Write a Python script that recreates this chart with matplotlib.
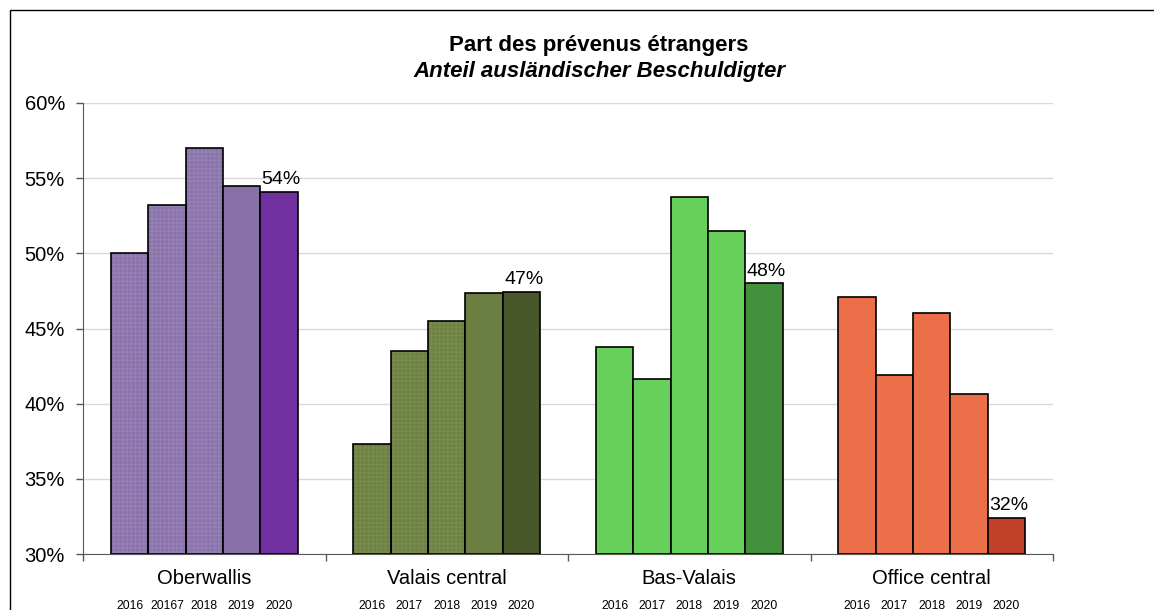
import matplotlib.pyplot as plt
import numpy as np
from matplotlib.patches import Rectangle
from matplotlib.transforms import blended_transform_factory

plt.rcParams['font.family'] = ['Liberation Sans', 'DejaVu Sans']

regions = ['Oberwallis', 'Valais central', 'Bas-Valais', 'Office central']
years = [['2016', '20167', '2018', '2019', '2020'],
         ['2016', '2017', '2018', '2019', '2020'],
         ['2016', '2017', '2018', '2019', '2020'],
         ['2016', '2017', '2018', '2019', '2020']]

oberwallis = [50.0, 53.2, 57.0, 54.5, 54.1]
valais_central = [37.3, 43.5, 45.5, 47.35, 47.45]
bas_valais = [43.8, 41.65, 53.75, 51.5, 48.0]
office_central = [47.1, 41.9, 46.05, 40.65, 32.4]
values = [oberwallis, valais_central, bas_valais, office_central]

# light tone for 2016-2019 (hatched except 2019 in Oberwallis), dark tone for 2020
colors = [['#8a70ac', '#8a70ac', '#8a70ac', '#8870a8', '#7030a0'],
          ['#6b7f42', '#6b7f42', '#6b7f42', '#6b7f42', '#48582a'],
          ['#66d05a', '#66d05a', '#66d05a', '#66d05a', '#43913c'],
          ['#eb704a', '#eb704a', '#eb704a', '#eb704a', '#c0402a']]
hatched = [[True, True, True, False, False],
           [True, True, True, False, False],
           [False] * 5,
           [False] * 5]

fig = plt.figure(figsize=(11.54, 6.10), dpi=100)
ax = fig.add_axes([83 / 1154, 1 - 554 / 610, 970 / 1154, 451 / 610])

w = 1 / 6.5
centers = []
labels = []
for i, vals in enumerate(values):
    for j, v in enumerate(vals):
        x = i + (j - 2) * w
        centers.append(x)
        labels.append(years[i][j])
        c = colors[i][j]
        if hatched[i][j]:
            ax.bar(x, v - 30, bottom=30, width=w, color=c, edgecolor='#9580b2' if i == 0 else '#778b4c',
                   hatch='++++', linewidth=0, zorder=2)
            ax.bar(x, v - 30, bottom=30, width=w, fill=False, edgecolor='black', linewidth=1.2, zorder=3)
        else:
            ax.bar(x, v - 30, bottom=30, width=w, color=c, edgecolor='black', linewidth=1.2, zorder=3)
    # value label on the 2020 bar
    ax.text(i + 2 * w + 0.01, vals[-1] + 0.25, f'{vals[-1]:.0f}%', ha='center', va='bottom', fontsize=14)

ax.set_ylim(30, 60)
ax.set_xlim(-0.5, 3.5)
ax.set_yticks(np.arange(30, 61, 5))
ax.set_yticklabels([f'{t}%' for t in range(30, 61, 5)], fontsize=14.5)
ax.yaxis.grid(True, color='#d9d9d9', linewidth=1, zorder=0)
ax.set_axisbelow(True)

ax.set_xticks(centers)
ax.set_xticklabels(labels, fontsize=8.8)
ax.tick_params(axis='x', which='major', length=0, pad=33)
ax.set_xticks(np.arange(-0.5, 3.6, 1), minor=True)
ax.tick_params(axis='x', which='minor', length=5, color='#595959', width=1)
ax.tick_params(axis='y', length=5, color='#595959', width=1, pad=8)

trans = blended_transform_factory(ax.transData, ax.transAxes)
for i, name in enumerate(regions):
    ax.text(i, -0.055, name, transform=trans, ha='center', va='center', fontsize=14.5)

for s in ['top', 'right']:
    ax.spines[s].set_visible(False)
ax.spines['left'].set_color('#595959')
ax.spines['bottom'].set_color('#595959')

fig.text(599 / 1154, 1 - 46 / 610, 'Part des prévenus étrangers', ha='center', va='center',
         fontsize=16, fontweight='bold')
fig.text(599 / 1154, 1 - 72 / 610, 'Anteil ausländischer Beschuldigter', ha='center', va='center',
         fontsize=16, fontweight='bold', style='italic')

# outer chart frame
fig.patches.append(Rectangle((10 / 1154, -0.2), 1.5, 1.2 - 10 / 610, transform=fig.transFigure,
                             fill=False, edgecolor='black', linewidth=1))

plt.savefig('out.png', dpi=100)
